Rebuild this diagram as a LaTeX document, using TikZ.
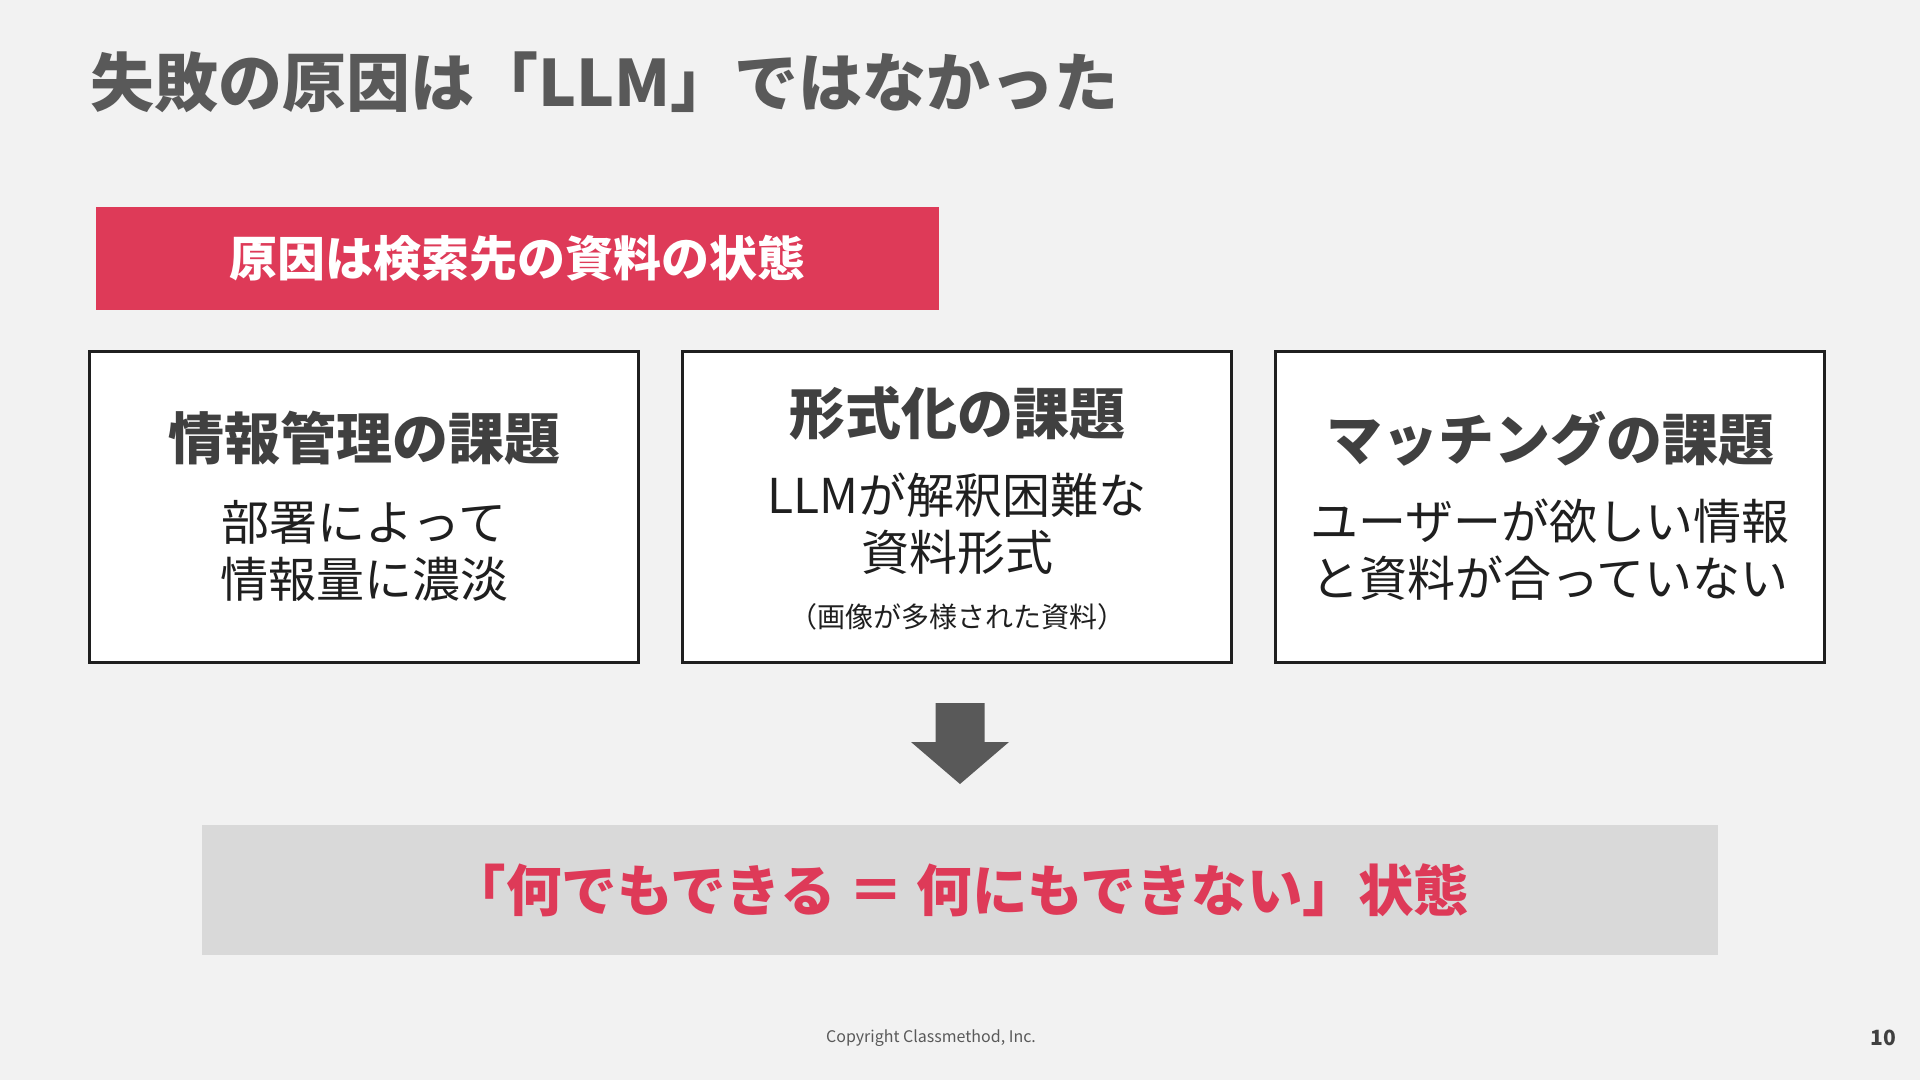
\documentclass[tikz,border=0pt]{standalone}
\usepackage{fontspec}
\setmainfont{Noto Sans CJK JP}
\usetikzlibrary{positioning, calc}

\definecolor{slidebg}{HTML}{F2F2F2}
\definecolor{accent}{HTML}{DE3A58}
\definecolor{titlegray}{HTML}{595959}
\definecolor{headgray}{HTML}{404040}
\definecolor{bodyink}{HTML}{1F1F1F}
\definecolor{resultbg}{HTML}{D9D9D9}

\begin{document}
\begin{tikzpicture}[
    x=1pt, y=-1pt,
    every node/.style={inner sep=0pt, outer sep=0pt},
    slidetitle/.style={
        anchor=west, text=titlegray,
        font=\fontsize{64}{72}\selectfont\bfseries
    },
    banner/.style={
        rectangle, fill=accent, minimum width=843pt, minimum height=103pt,
        text=white, font=\fontsize{48}{56}\selectfont\bfseries
    },
    issue/.style={
        rectangle, draw=bodyink, line width=2.5pt, fill=white,
        minimum width=549pt, minimum height=311pt
    },
    issuehead/.style={
        text=headgray, font=\fontsize{56}{64}\selectfont\bfseries
    },
    issuebody/.style={
        text=bodyink, align=center, font=\fontsize{48}{57}\selectfont
    },
    issuenote/.style={
        text=bodyink, font=\fontsize{28}{32}\selectfont
    },
    result/.style={
        rectangle, fill=resultbg, minimum width=1516pt, minimum height=130pt,
        text=accent, font=\fontsize{55.5}{62}\selectfont\bfseries
    },
    footer/.style={text=titlegray, font=\fontsize{16}{20}\selectfont},
    pagenum/.style={text=headgray, font=\fontsize{21}{24}\selectfont\bfseries},
]

% Slide background
\useasboundingbox[fill=slidebg] (0,0) rectangle (1920,1080);

% Title and cause banner
\node[slidetitle] (title) at (90,82) {失敗の原因は「LLM」ではなかった};
\node[banner] (cause) at (517,258) {原因は検索先の資料の状態};

% Three issue boxes
\node[issue] (info) at (364,507) {};
\node[issue, right=44pt of info] (format) {};
\node[issue, right=44pt of format] (match) {};

\node[issuehead] (infohead) at ($(info.north)+(0,87)$) {情報管理の課題};
\node[issuebody] (infobody) at ($(info.north)+(0,199)$) {部署によって\\情報量に濃淡};

\node[issuehead] (formathead) at ($(format.north)+(0,62)$) {形式化の課題};
\node[issuebody] (formatbody) at ($(format.north)+(0,172)$) {LLMが解釈困難な\\資料形式};
\node[issuenote] (formatnote) at ($(format.north)+(0,265)$) {（画像が多様された資料）};

\node[issuehead] (matchhead) at ($(match.north)+(0,87)$) {マッチングの課題};
\node[issuebody] (matchbody) at ($(match.north)+(0,198)$) {ユーザーが欲しい情報\\と資料が合っていない};

% Conclusion
\node[result] (result) at (960,890) {「何でもできる ＝ 何にもできない」状態};

% Block arrow down to the conclusion
\coordinate (flowtop) at ($(result.north)+(0,-122)$);
\coordinate (flowtip) at ($(result.north)+(0,-41)$);
\fill[titlegray] ($(flowtop)+(-24.5,0)$) -- ($(flowtop)+(24.5,0)$)
    -- ($(flowtip)+(24.5,-42)$) -- ($(flowtip)+(49,-42)$) -- (flowtip)
    -- ($(flowtip)+(-49,-42)$) -- ($(flowtip)+(-24.5,-42)$) -- cycle;

% Footer
\node[footer] (copy) at (931,1038) {Copyright Classmethod, Inc.};
\node[pagenum] (page) at (1883,1038) {10};

\end{tikzpicture}
\end{document}
